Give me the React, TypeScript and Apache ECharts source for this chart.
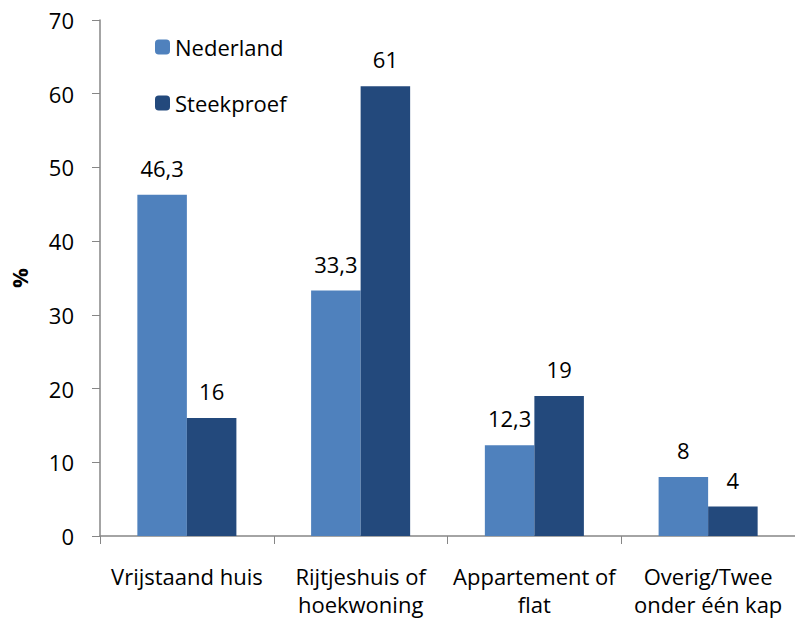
import React, { useEffect, useRef } from "react";
import * as echarts from "echarts";

const categories = ["Vrijstaand huis", "Rijtjeshuis of\nhoekwoning", "Appartement of\nflat", "Overig/Twee\nonder één kap"];
const nederland = [46.3, 33.3, 12.3, 8];
const steekproef = [16, 61, 19, 4];

const FONT = "Open Sans";
const FS = 22;

export default function App() {
  const ref = useRef<HTMLDivElement>(null);
  useEffect(() => {
    const chart = echarts.init(ref.current!, null, { renderer: "svg" });
    const fmt = (p: any) => String(p.value).replace(".", ",");
    chart.setOption({
      animation: false,
      textStyle: { fontFamily: FONT },
      grid: { left: 98, right: -7, top: 20, bottom: 85, containLabel: false },
      legend: {
        orient: "vertical",
        left: 150,
        top: 31,
        itemWidth: 15,
        itemHeight: 15,
        itemGap: 34,
        textStyle: { fontFamily: FONT, fontSize: FS, color: "#000" },
        data: ["Nederland", "Steekproef"],
      },
      xAxis: {
        type: "category",
        data: categories,
        axisLine: { lineStyle: { color: "#868686", width: 1.5 } },
        axisTick: { show: true, length: 8, lineStyle: { color: "#868686" } },
        axisLabel: { color: "#000", fontSize: FS, fontFamily: FONT, margin: 26, lineHeight: 28, interval: 0 },
      },
      yAxis: {
        type: "value",
        min: 0,
        max: 70,
        interval: 10,
        name: "%",
        nameLocation: "middle",
        nameGap: 70,
        nameRotate: 90,
        nameTextStyle: { fontWeight: "bold", fontSize: FS, color: "#000", fontFamily: FONT },
        axisLine: { show: true, lineStyle: { color: "#868686", width: 1.5 } },
        axisTick: { show: true, length: 8, lineStyle: { color: "#868686" } },
        axisLabel: { color: "#000", fontSize: FS, fontFamily: FONT, margin: 26 },
        splitLine: { show: false },
      },
      series: [
        {
          name: "Nederland",
          type: "bar",
          data: nederland,
          barGap: "0%",
          barCategoryGap: "43%",
          itemStyle: { color: "#4F81BD" },
          label: { show: true, position: "top", distance: 16, formatter: fmt, fontSize: FS, color: "#000", fontFamily: FONT },
        },
        {
          name: "Steekproef",
          type: "bar",
          data: steekproef,
          barGap: "0%",
          barCategoryGap: "43%",
          itemStyle: { color: "#23497C" },
          label: { show: true, position: "top", distance: 16, formatter: fmt, fontSize: FS, color: "#000", fontFamily: FONT },
        },
      ],
    });
    return () => chart.dispose();
  }, []);
  return <div ref={ref} style={{ width: 795, height: 621, position: "absolute", left: 0, top: 0 }} />;
}
